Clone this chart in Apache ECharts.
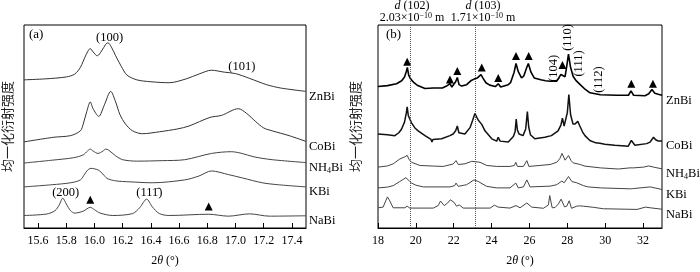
<!DOCTYPE html>
<html><head><meta charset="utf-8">
<script src="https://cdn.jsdelivr.net/npm/echarts@6/dist/echarts.min.js"></script>
<style>html,body{margin:0;padding:0;background:#fff}#c{width:700px;height:272px}</style>
</head><body><div id="c"></div>
<script>
const serif = 'Liberation Serif';
const cjk = 'Noto Sans CJK SC';
const seriesNames = ['ZnBi', 'CoBi', 'NH4Bi', 'KBi', 'NaBi'];
const ticksA = [15.6, 15.8, 16.0, 16.2, 16.4, 16.6, 16.8, 17.0, 17.2, 17.4];
const ticksB = [18, 20, 22, 24, 26, 28, 30, 32];
const yLabel = '均一化衍射强度';

// Panel (a): 2θ 15.5–17.5, normalized intensity (arbitrary offset units)
const a_ZnBi = [[15.50,154],[15.65,155],[15.80,157],[15.86,160],[15.90,167],[15.94,180],[15.97,186.5],[15.99,183],[16.02,179],[16.05,184],[16.08,191],[16.095,192.5],[16.12,188],[16.15,179],[16.19,168],[16.23,159],[16.30,154],[16.40,152],[16.53,151],[16.65,155],[16.74,160],[16.83,164],[16.92,162],[17.00,160.5],[17.10,155.5],[17.22,149],[17.32,145.5],[17.50,142]];
const a_CoBi = [[15.50,89.5],[15.71,94.3],[15.83,96],[15.90,101],[15.92,108],[15.945,121],[15.97,131],[15.99,124],[16.03,116],[16.07,128],[16.115,142],[16.15,131],[16.18,118],[16.22,108],[16.27,101],[16.34,98],[16.46,100],[16.59,103],[16.67,106],[16.82,115],[16.90,117],[17.02,124],[17.08,119],[17.14,111],[17.20,104],[17.26,101],[17.38,96],[17.50,90]];
const a_NH4Bi = [[15.50,67.5],[15.70,70.5],[15.85,73],[15.92,76],[15.95,80],[15.97,82],[15.99,80],[16.025,77.5],[16.06,80],[16.08,82],[16.10,81],[16.15,75],[16.20,71],[16.30,69.5],[16.48,70],[16.64,71],[16.83,77.5],[16.97,79.3],[17.04,77.7],[17.13,74],[17.26,71],[17.50,68]];
const a_KBi = [[15.50,42.7],[15.70,45],[15.83,47],[15.90,50],[15.93,56],[15.95,60],[15.975,62],[16.00,61.5],[16.03,60],[16.06,56],[16.09,51.5],[16.15,49],[16.25,48],[16.41,47],[16.64,50],[16.74,54],[16.83,59.3],[16.95,55.5],[17.05,52],[17.19,47],[17.30,45],[17.50,42.7]];
const a_NaBi = [[15.50,13],[15.66,14.5],[15.72,18],[15.75,24],[15.775,31],[15.80,25],[15.83,18],[15.86,15.5],[15.92,17.5],[15.97,21.5],[16.00,19],[16.04,15.5],[16.13,13],[16.27,15],[16.32,21],[16.37,30],[16.41,22],[16.46,15],[16.53,13],[16.81,14.3],[16.95,12.3],[17.10,14.7],[17.24,12.3],[17.50,12.7]];

// Panel (b): 2θ 18–33
const b_ZnBi = [[18.0,147],[18.5,148],[18.98,150],[19.25,153],[19.40,157],[19.50,163],[19.55,167],[19.62,159],[19.72,155],[19.90,151],[20.10,148],[20.48,145],[20.92,145.5],[21.40,145.5],[21.62,147.5],[21.80,150],[21.90,146.5],[22.00,148],[22.10,152],[22.19,156.5],[22.28,149],[22.42,147.5],[22.68,149],[22.90,153],[23.10,155],[23.25,156],[23.44,159.5],[23.55,155.5],[23.70,151],[23.90,148.5],[24.20,147],[24.35,150],[24.48,146.5],[24.88,149],[25.00,151],[25.19,162],[25.29,171],[25.41,162.5],[25.58,156],[25.70,158],[25.86,167],[25.94,171],[26.08,162],[26.25,156],[26.60,154],[26.85,153],[27.10,152.5],[27.44,152.7],[27.66,159.5],[27.76,157.5],[27.88,157.3],[27.96,167],[28.06,180.7],[28.17,167],[28.31,157.5],[28.45,153.5],[28.68,149],[28.95,144],[29.20,140.5],[29.74,138.5],[30.62,138],[31.23,138],[31.36,142.5],[31.50,138],[32.10,137.5],[32.30,139.5],[32.47,144],[32.62,140],[32.80,139],[33.0,138]];
const b_CoBi = [[18.0,97.7],[18.5,97],[18.89,96],[19.10,99],[19.24,102.7],[19.40,110],[19.50,120],[19.54,126],[19.60,117],[19.77,109.3],[19.95,104],[20.12,101],[20.48,96],[20.80,92],[20.85,89.5],[20.90,92],[21.36,92.7],[21.80,96],[21.97,97.7],[22.10,101],[22.19,106],[22.27,99],[22.33,97.7],[22.59,97.7],[22.86,104.3],[23.00,112],[23.12,119],[23.22,115],[23.30,112],[23.48,107.7],[23.65,101],[24.01,92.7],[24.27,90.3],[24.35,94.3],[24.45,90.3],[24.88,89.3],[25.15,95],[25.24,100],[25.30,113.3],[25.36,102],[25.45,97.7],[25.66,96],[25.80,103],[25.89,121],[25.96,105],[26.05,97],[26.28,92.7],[26.81,94.3],[27.16,96],[27.51,101],[27.66,107],[27.74,114.3],[27.83,106],[27.90,104.3],[28.00,120],[28.08,138.7],[28.17,118],[28.30,108],[28.41,108],[28.55,111],[28.66,106],[28.80,100],[28.93,96],[29.19,91],[29.50,88.5],[29.72,88],[29.98,87],[30.51,86],[31.22,85],[31.38,91],[31.57,86],[32.19,87.7],[32.37,89.3],[32.55,94.3],[32.65,92],[32.80,90.3],[33.0,90.3]];
const b_NH4Bi = [[18.0,63.3],[18.50,64.5],[18.80,66.7],[19.15,71.7],[19.42,74],[19.54,75.5],[19.65,71],[19.77,68.3],[20.21,65],[21.00,64.3],[21.44,64],[21.97,66.5],[22.12,70],[22.24,66],[22.59,66.7],[22.95,69.3],[23.39,68.3],[23.74,65],[24.27,64],[24.97,64],[25.20,65],[25.28,68.3],[25.36,64],[25.68,64],[25.86,70],[25.97,64],[26.03,63.5],[27.09,66],[27.44,68.3],[27.60,72],[27.72,77.5],[27.88,70.5],[28.06,75.3],[28.20,70],[28.31,67.7],[28.68,66],[28.93,64.3],[29.74,62.5],[30.69,61.3],[31.30,62.5],[31.40,64],[31.50,62.5],[32.03,63.3],[32.30,64.5],[32.62,63],[33.0,61.5]];
const b_KBi = [[18.0,41.7],[18.50,42.5],[18.80,44],[19.15,48.3],[19.47,52.3],[19.54,53.5],[19.65,49],[19.77,46.7],[20.00,44.5],[20.39,42.7],[21.80,42.7],[22.05,44],[22.12,46.7],[22.24,43.3],[22.68,45],[23.07,50],[23.30,48.3],[23.74,43.3],[24.27,41.7],[24.35,42.7],[24.45,41.7],[24.97,41.7],[25.28,46.7],[25.41,41.7],[25.68,42.7],[25.86,50],[26.03,42.7],[27.09,43.5],[27.44,45],[27.71,48.8],[27.83,47],[28.06,53.5],[28.24,48.3],[28.50,47],[28.85,44],[29.10,42.7],[29.74,41.7],[31.32,40.7],[31.41,42.3],[31.50,41],[32.38,42.7],[33.0,40]];
const b_NaBi = [[18.0,21],[18.27,21.7],[18.41,28.3],[18.50,32.3],[18.62,28.3],[18.80,21],[19.42,21],[19.54,22.7],[19.68,20.7],[20.92,20.7],[21.18,23.3],[21.30,28],[21.50,23.3],[21.68,26],[21.82,29.3],[22.01,26.7],[22.15,22.7],[22.29,24],[22.50,20.7],[23.92,20.7],[24.15,23.7],[24.35,21.7],[24.97,20.7],[25.29,23.3],[25.50,21],[25.86,26],[26.12,21.7],[26.74,20.5],[27.00,24],[27.07,33.7],[27.20,21],[27.35,21.3],[27.53,25],[27.67,30],[27.85,22],[27.97,22.7],[28.10,28.3],[28.22,20.5],[28.50,22.7],[28.64,23],[28.85,22.7],[29.38,21.5],[29.91,20],[31.68,19.3],[32.12,21.7],[32.38,21],[33.0,19.5]];

const dLines = [19.72, 23.13];
const triA = [[15.97, 29.3], [16.81, 22.3]];
const triB = [[19.54,172.7],[21.80,154.3],[22.19,163.3],[23.48,166.7],[24.35,156],[25.29,178.7],[25.96,178.7],[27.74,169.3],[31.38,150],[32.52,150]];
const annotA = [['(100)', 16.107, 198], ['(101)', 17.045, 168], ['(200)', 15.796, 37], ['(111\u0304)', 16.389, 37]];
const hklB = [['(104)', 27.26, 166], ['(110)', 28.0, 198], ['(111)', 28.62, 171], ['(112)', 29.65, 154.3]];

const aData = [a_ZnBi, a_CoBi, a_NH4Bi, a_KBi, a_NaBi];
const bData = [b_ZnBi, b_CoBi, b_NH4Bi, b_KBi, b_NaBi];

const rich = {
  n: {fontFamily: serif, fontSize: 12.5, color: '#000', lineHeight: 15},
  s: {fontFamily: serif, fontSize: 8, color: '#000', lineHeight: 15, verticalAlign: 'bottom', padding: [5, 0, 0, 0]}
};
function nameFmt(n) { return n === 'NH4Bi' ? '{n|NH}{s|4}{n|Bi}' : '{n|' + n + '}'; }

function lineSeries(data, names, ax, opts) {
  return data.map((d, i) => ({
    type: 'line', name: names[i] + ax, xAxisIndex: ax, yAxisIndex: ax, data: d,
    showSymbol: false, symbol: 'none', smooth: opts.smooth, animation: false,
    lineStyle: {color: opts.colors[i], width: opts.widths[i]},
    endLabel: {show: true, formatter: () => nameFmt(names[i]), distance: opts.dist, offset: [0, 5], rich: rich},
    markLine: (ax === 1 && i === 0) ? {
      silent: true, symbol: 'none', label: {show: false},
      lineStyle: {type: 'dotted', color: '#555', width: 1},
      data: dLines.map(v => ({xAxis: v}))
    } : undefined
  }));
}

const xAxisCommon = {
  type: 'value', axisLine: {show: true, lineStyle: {color: '#000'}},
  axisTick: {show: true, inside: true, length: 5, lineStyle: {color: '#000'}},
  splitLine: {show: false},
  axisLabel: {color: '#000', fontFamily: serif, fontSize: 12, margin: 7},
  nameLocation: 'middle', nameGap: 27,
  nameTextStyle: {fontFamily: serif, fontSize: 12, color: '#000', rich: {i: {fontStyle: 'italic', fontFamily: serif, fontSize: 12}}},
  name: '2{i|θ} (°)'
};
const yAxisCommon = {
  type: 'value', min: 0, max: 211, axisLine: {show: false}, axisTick: {show: false},
  axisLabel: {show: false}, splitLine: {show: false},
  name: yLabel, nameLocation: 'middle', nameRotate: 90,
  nameTextStyle: {fontFamily: cjk, fontSize: 13, color: '#222'}
};

const option = {
  backgroundColor: '#fff',
  animation: false,
  grid: [
    {left: 21, top: 25, width: 285, height: 211, show: true, borderColor: '#000', borderWidth: 1},
    {left: 378, top: 25, width: 284, height: 211, show: true, borderColor: '#000', borderWidth: 1}
  ],
  xAxis: [
    Object.assign({}, xAxisCommon, {gridIndex: 0, min: 15.5, max: 17.5,
      axisTick: Object.assign({}, xAxisCommon.axisTick, {customValues: ticksA}),
      axisLabel: Object.assign({}, xAxisCommon.axisLabel, {customValues: ticksA, formatter: v => (+v).toFixed(1)})}),
    Object.assign({}, xAxisCommon, {gridIndex: 1, min: 18, max: 33,
      axisTick: Object.assign({}, xAxisCommon.axisTick, {customValues: ticksB}),
      axisLabel: Object.assign({}, xAxisCommon.axisLabel, {customValues: ticksB, formatter: v => String(Math.round(v))})})
  ],
  yAxis: [
    Object.assign({}, yAxisCommon, {gridIndex: 0, nameGap: 10}),
    Object.assign({}, yAxisCommon, {gridIndex: 1, nameGap: 16})
  ],
  series: [].concat(
    lineSeries(aData, seriesNames, 0, {smooth: 0.3, colors: ['#333','#333','#444','#444','#444'], widths: [1,1,1,1,1], dist: 3}),
    lineSeries(bData, seriesNames, 1, {smooth: false, colors: ['#000','#111','#444','#444','#444'], widths: [1.6,1.5,1,1,1], dist: 4}),
    [
      {type: 'scatter', xAxisIndex: 0, yAxisIndex: 0, data: triA, symbol: 'triangle', symbolSize: 8, itemStyle: {color: '#000', opacity: 1}, silent: true},
      {type: 'scatter', xAxisIndex: 1, yAxisIndex: 1, data: triB, symbol: 'triangle', symbolSize: 8, itemStyle: {color: '#000', opacity: 1}, silent: true},
      {type: 'scatter', xAxisIndex: 0, yAxisIndex: 0, symbolSize: 1, itemStyle: {color: 'rgba(0,0,0,0)', opacity: 1}, silent: true,
        data: annotA.map(a => ({name: a[0], value: [a[1], a[2]]})),
        label: {show: true, position: 'inside', formatter: p => p.name, fontFamily: serif, fontSize: 12.5, color: '#000', opacity: 1}},
      {type: 'scatter', xAxisIndex: 1, yAxisIndex: 1, symbolSize: 1, itemStyle: {color: 'rgba(0,0,0,0)', opacity: 1}, silent: true,
        data: hklB.map(a => ({name: a[0], value: [a[1], a[2]]})),
        label: {show: true, position: 'inside', rotate: 90, formatter: p => p.name, fontFamily: serif, fontSize: 12.5, color: '#000', opacity: 1}}
    ]
  ),
  graphic: [
    {type: 'text', left: 29, top: 28, style: {text: '(a)', font: '13px "Liberation Serif"', fill: '#000'}},
    {type: 'text', left: 386, top: 28, style: {text: '(b)', font: '13px "Liberation Serif"', fill: '#000'}},
    {type: 'text', x: 412, y: 0, style: {text: '{i|d} (102)\n2.03×10{sup|−10} m', textAlign: 'center', fill: '#000',
      font: '12px "Liberation Serif"', lineHeight: 12,
      rich: {i: {fontStyle: 'italic', fontFamily: serif, fontSize: 12, lineHeight: 12}, sup: {fontFamily: serif, fontSize: 8, verticalAlign: 'top', lineHeight: 12}}}},
    {type: 'text', x: 483, y: 0, style: {text: '{i|d} (103)\n1.71×10{sup|−10} m', textAlign: 'center', fill: '#000',
      font: '12px "Liberation Serif"', lineHeight: 12,
      rich: {i: {fontStyle: 'italic', fontFamily: serif, fontSize: 12, lineHeight: 12}, sup: {fontFamily: serif, fontSize: 8, verticalAlign: 'top', lineHeight: 12}}}}
  ]
};

const chart = echarts.init(document.getElementById('c'), null, {renderer: 'canvas'});
chart.setOption(option);
</script></body></html>
